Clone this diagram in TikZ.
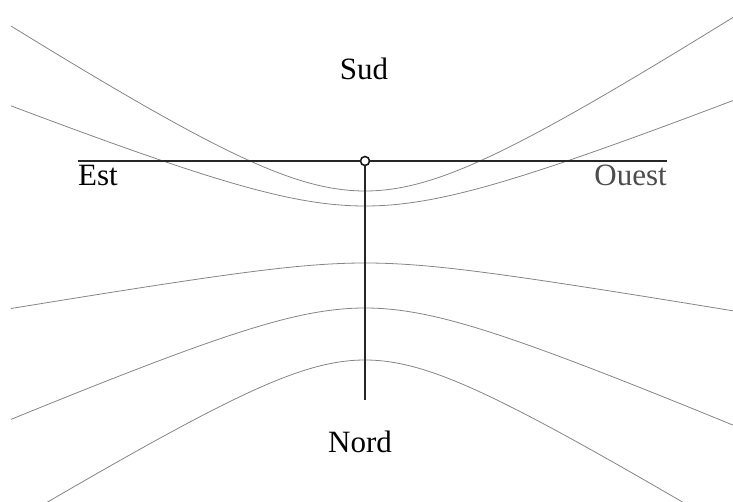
\documentclass[tikz,border=0pt]{standalone}
\usepackage{fontspec}
\setmainfont{Liberation Serif}
\usetikzlibrary{positioning}
\tikzset{
	axe/.style={line width=1.5pt, draw=black!85},
	courbe/.style={line width=0.8pt, draw=black!48, smooth},
	point/.style={circle, draw=black!90, line width=1.6pt, minimum size=9pt, inner sep=0pt},
	lbl/.style={font=\fontsize{31}{36}\selectfont, inner sep=0pt}
}

\begin{document}
\begin{tikzpicture}[x=1pt, y=-1pt]
		\useasboundingbox (0,0) rectangle (733,502);
		% arcs diurnes
		\draw[courbe, domain=-354:368, samples=90] plot ({\x+365}, {191-78*(sqrt(1+(\x/120)^2)-1)});
		\draw[courbe, domain=-354:368, samples=90] plot ({\x+365}, {206-50*(sqrt(1+(\x/125)^2)-1)});
		\draw[courbe, domain=-354:368, samples=90] plot ({\x+365}, {263+17*(sqrt(1+(\x/100)^2)-1)});
		\draw[courbe, domain=-354:368, samples=90] plot ({\x+365}, {308+47*(sqrt(1+(\x/110)^2)-1)});
		\draw[courbe, domain=-318:320, samples=90] plot ({\x+365}, {360+61*(sqrt(1+(\x/100)^2)-1)});
		% ligne est-ouest et meridienne
		\coordinate (estbout) at (78,161);
		\coordinate (ouestbout) at (667,161);
		\coordinate (meridbout) at (365,400);
		\node[point, fill=white] (pied) at (365,161) {};
		\draw[axe] (estbout) -- (pied);
		\draw[axe] (pied) -- (ouestbout);
		\draw[axe] (pied) -- (meridbout);
		\node[lbl, anchor=base] (sud) at (364,80) {Sud};
		\node[lbl, anchor=base west] (est) at (78,186) {Est};
		\node[lbl, anchor=base east, text=black!70] (ouest) at (667,186) {Ouest};
		\node[lbl, anchor=base] (nord) at (360,452) {Nord};
	\end{tikzpicture}
\end{document}
